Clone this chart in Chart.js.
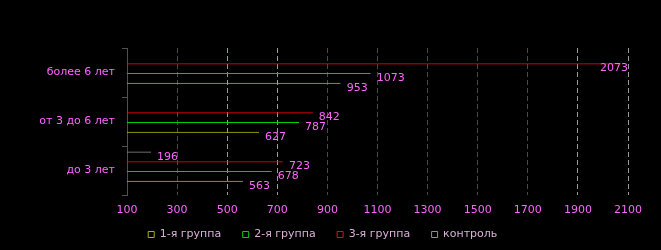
<!DOCTYPE html>
<html><head><meta charset="utf-8">
<script src="https://cdn.jsdelivr.net/npm/chart.js@4.4.0/dist/chart.umd.min.js"></script>
<style>html,body{margin:0;padding:0;background:#000;}#wrap{width:661px;height:250px;position:relative;}</style>
</head><body><div id="wrap"><canvas id="c"></canvas></div>
<script>
const categories = ['более 6 лет', 'от 3 до 6 лет', 'до 3 лет'];
const group1 = [953, 627, 563];
const group2 = [1073, 787, 678];
const group3 = [2073, 842, 723];
const control = [null, null, 196];
const seriesNames = ['1-я группа', '2-я группа', '3-я группа', 'контроль'];
const xTickValues = [100, 300, 500, 700, 900, 1100, 1300, 1500, 1700, 1900, 2100];
const brightTicks = [500, 700, 1900, 2100];

const FONT = '"DejaVu Sans", Verdana, sans-serif';
const colors = { g1: '#b0b000', g2: '#00d000', g3: '#ff0000', ctl: '#909090' };

const valueLabels = {
  id: 'valueLabels',
  afterDatasetsDraw(chart) {
    const ctx = chart.ctx, area = chart.chartArea;
    ctx.save();
    ctx.font = '11px ' + FONT;
    ctx.fillStyle = '#ff66ff';
    ctx.textBaseline = 'middle';
    chart.data.datasets.forEach((ds, i) => {
      const meta = chart.getDatasetMeta(i);
      if (meta.hidden) return;
      meta.data.forEach((bar, j) => {
        const v = ds.data[j];
        if (v == null) return;
        const t = String(v);
        const w = ctx.measureText(t).width;
        let x = bar.x + 6;
        ctx.textAlign = 'left';
        if (x + w > area.right) { x = area.right; ctx.textAlign = 'right'; }
        ctx.fillText(t, x, bar.y + 1);
      });
    });
    ctx.restore();
  }
};

function ds(label, data, color) {
  return {
    label, data,
    backgroundColor: 'rgba(0,0,0,0)',
    borderColor: color,
    borderWidth: { top: 1, right: 0, bottom: 0, left: 0 },
    borderSkipped: false
  };
}

new Chart(document.getElementById('c'), {
  type: 'bar',
  data: {
    labels: categories,
    datasets: [
      ds(seriesNames[3], control, colors.ctl),
      ds(seriesNames[2], group3, colors.g3),
      ds(seriesNames[1], group2, colors.g2),
      ds(seriesNames[0], group1, colors.g1)
    ]
  },
  options: {
    indexAxis: 'y',
    responsive: true,
    maintainAspectRatio: false,
    animation: false,
    devicePixelRatio: 1,
    layout: { padding: { top: 48, right: 33, left: 28, bottom: 0 } },
    scales: {
      x: {
        min: 100, max: 2100,
        afterBuildTicks(s) { s.ticks = xTickValues.map(v => ({ value: v })); },
        afterFit(s) { s.height = 23; },
        ticks: { color: '#ff66ff', font: { size: 11, family: FONT }, padding: 9, maxRotation: 0, callback: v => String(v) },
        grid: {
          drawTicks: false,
          color: c => (c.tick && brightTicks.includes(c.tick.value)) ? '#9a9a9a' : '#4a4a4a',
          lineWidth: 1
        },
        border: { display: false, dash: [5, 3] }
      },
      y: {
        afterFit(s) { s.width = 99; },
        ticks: { color: '#ff66ff', font: { size: 11, family: FONT }, padding: 7 },
        grid: { drawOnChartArea: false, drawTicks: true, tickLength: 5, tickColor: '#505050' },
        border: { display: true, color: '#505050', width: 1 }
      }
    },
    plugins: {
      tooltip: { enabled: false },
      legend: {
        position: 'bottom',
        reverse: true,
        labels: {
          color: '#d8b0d8',
          font: { size: 11, family: FONT },
          boxWidth: 6, boxHeight: 6,
          padding: 11,
          generateLabels(chart) {
            return Chart.defaults.plugins.legend.labels.generateLabels(chart)
              .map(l => ({ ...l, text: l.text + '   ', lineWidth: 1, fillStyle: '#000' }));
          }
        }
      }
    }
  },
  plugins: [valueLabels]
});
</script>
</body></html>
